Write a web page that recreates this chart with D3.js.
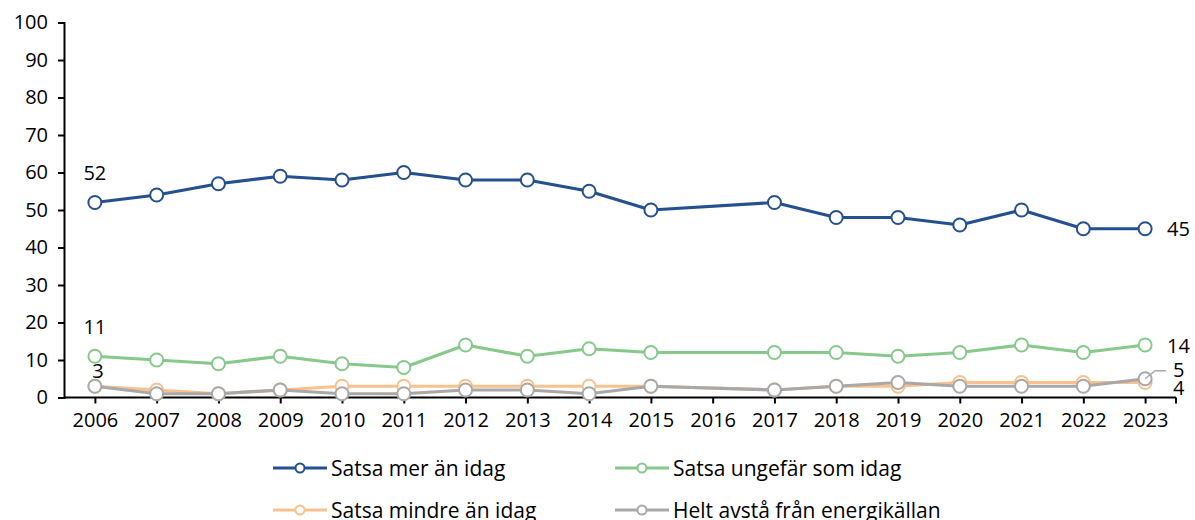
<!DOCTYPE html>
<html lang="sv">
<head>
<meta charset="utf-8">
<title>Energikälla</title>
<script src="https://d3js.org/d3.v7.min.js"></script>
<style>
  body { margin: 0; background: #fff; }
  text { font-family: "Open Sans", "Noto Sans", sans-serif; fill: #000; }
</style>
</head>
<body>
<script>
// data
var years = ["2006","2007","2008","2009","2010","2011","2012","2013","2014","2015","2016","2017","2018","2019","2020","2021","2022","2023"];
var merAnIdag     = [52,54,57,59,58,60,58,58,55,50,null,52,48,48,46,50,45,45];
var ungefarIdag   = [11,10,9,11,9,8,14,11,13,12,null,12,12,11,12,14,12,14];
var mindreAnIdag  = [3,2,1,2,3,3,3,3,3,3,null,2,3,3,4,4,4,4];
var heltAvsta     = [3,1,1,2,1,1,2,2,1,3,null,2,3,4,3,3,3,5];
var yTicks = [0,10,20,30,40,50,60,70,80,90,100];

var series = [
  {name: "Satsa mer än idag", values: merAnIdag, color: "#24508f"},
  {name: "Satsa ungefär som idag", values: ungefarIdag, color: "#86c98b"},
  {name: "Satsa mindre än idag", values: mindreAnIdag, color: "#f9c18e"},
  {name: "Helt avstå från energikällan", values: heltAvsta, color: "#a8a8a8"}
];

var width = 1195, height = 520;
var mLeft = 64, mRight = 1176, mTop = 22.5, mBottom = 397.5;

var svg = d3.select("body").append("svg")
  .attr("width", width)
  .attr("height", height);

var x = d3.scalePoint().domain(years).range([mLeft, mRight]).padding(0.5);
var y = d3.scaleLinear().domain([0, 100]).range([mBottom, mTop]);

// axes
var yAxis = svg.append("g")
  .attr("transform", "translate(" + mLeft + ",0)")
  .call(d3.axisLeft(y).tickValues(yTicks).tickSize(6).tickPadding(10));
var xAxis = svg.append("g")
  .attr("transform", "translate(0," + mBottom + ")")
  .call(d3.axisBottom(x).tickSize(6).tickPadding(9));

[yAxis, xAxis].forEach(function(a) {
  a.selectAll("path, line").attr("stroke", "#000").attr("stroke-width", 2);
  a.selectAll("text").style("font-size", "20px").style("font-family", "'Open Sans', sans-serif").attr("fill", "#000");
});
xAxis.select("path").attr("d", "M" + mLeft + ",0H" + mRight);
// closing tick at the right end
xAxis.append("line").attr("x1", mRight).attr("x2", mRight).attr("y1", 0).attr("y2", 6)
  .attr("stroke", "#000").attr("stroke-width", 2);

// lines, in series order (later series on top, like the source)
var line = d3.line()
  .defined(function(d) { return d.v !== null; })
  .x(function(d) { return x(d.year); })
  .y(function(d) { return y(d.v); });

series.forEach(function(s) {
  var pts = years.map(function(yr, i) { return {year: yr, v: s.values[i]}; })
    .filter(function(d) { return d.v !== null; });
  var g = svg.append("g");
  g.append("path")
    .attr("d", line(pts))
    .attr("fill", "none")
    .attr("stroke", s.color)
    .attr("stroke-width", 3.2)
    .attr("stroke-linejoin", "round");
  g.selectAll("circle").data(pts).enter().append("circle")
    .attr("cx", function(d) { return x(d.year); })
    .attr("cy", function(d) { return y(d.v); })
    .attr("r", 6.5)
    .attr("fill", "#fff")
    .attr("stroke", s.color)
    .attr("stroke-width", 2);
});

// value labels
var first = years[0], last = years[years.length - 1];
var n = years.length - 1;
function label(txt, xx, yy, anchor) {
  svg.append("text").attr("x", xx).attr("y", yy)
    .attr("text-anchor", anchor || "middle")
    .attr("dominant-baseline", "central")
    .style("font-size", "20px")
    .text(txt);
}
label(merAnIdag[0], x(first), y(merAnIdag[0]) - 30);
label(ungefarIdag[0], x(first), y(ungefarIdag[0]) - 30);
label(heltAvsta[0], x(first) + 3, y(heltAvsta[0]) - 16);
label(merAnIdag[n], x(last) + 22, y(merAnIdag[n]), "start");
label(ungefarIdag[n], x(last) + 22, y(ungefarIdag[n]), "start");
label(heltAvsta[n], x(last) + 28, y(heltAvsta[n]) - 9, "start");
label(mindreAnIdag[n], x(last) + 28, y(mindreAnIdag[n]) + 5, "start");
// leader line for the gray end label
svg.append("path")
  .attr("d", "M" + x(last) + "," + y(heltAvsta[n]) + "L" + (x(last) + 10) + "," + (y(heltAvsta[n]) - 8) + "H" + (x(last) + 21))
  .attr("fill", "none").attr("stroke", "#a8a8a8").attr("stroke-width", 1.5);

// legend
var legendPos = [[273, 468], [615, 468], [273, 510], [615, 510]];
series.forEach(function(s, i) {
  var lx = legendPos[i][0], ly = legendPos[i][1];
  var g = svg.append("g").attr("transform", "translate(" + lx + "," + ly + ")");
  g.append("line").attr("x1", 0).attr("x2", 54).attr("y1", 0).attr("y2", 0)
    .attr("stroke", s.color).attr("stroke-width", 3.2);
  g.append("circle").attr("cx", 27).attr("cy", 0).attr("r", 4.5)
    .attr("fill", "#fff").attr("stroke", s.color).attr("stroke-width", 2);
  g.append("text").attr("x", 58).attr("y", 0)
    .attr("dominant-baseline", "central")
    .style("font-size", "21px")
    .text(s.name);
});
</script>
</body>
</html>
